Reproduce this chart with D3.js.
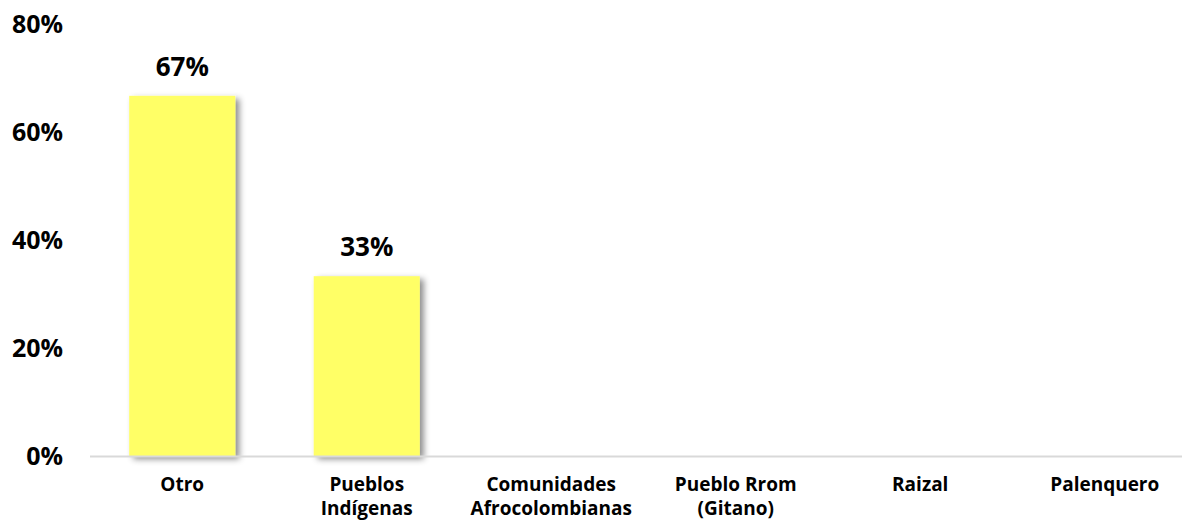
<!DOCTYPE html>
<html lang="es">
<head>
<meta charset="UTF-8">
<script src="https://d3js.org/d3.v7.min.js"></script>
<style>
  body { margin: 0; background: #fff; }
  text { font-family: "Open Sans", "Noto Sans", sans-serif; font-weight: bold; fill: #000; }
</style>
</head>
<body>
<script>
// datos
var categorias = [["Otro"], ["Pueblos", "Indígenas"], ["Comunidades", "Afrocolombianas"], ["Pueblo Rrom", "(Gitano)"], ["Raizal"], ["Palenquero"]];
var valores = [0.667, 0.333, 0, 0, 0, 0];
var etiquetas = ["67%", "33%", "", "", "", ""];
var ticks = [0, 0.2, 0.4, 0.6, 0.8];

var W = 1182, H = 521;
var svg = d3.select('body').append('svg')
    .attr('width', W)
    .attr('height', H);

var defs = svg.append('defs');
var f = defs.append('filter').attr('id', 'sombra')
    .attr('x', '-20%').attr('y', '-20%').attr('width', '150%').attr('height', '150%');
f.append('feDropShadow')
    .attr('dx', 4).attr('dy', 3)
    .attr('stdDeviation', 3)
    .attr('flood-color', '#000')
    .attr('flood-opacity', 0.45);

var nombres = categorias.map(function(d){ return d.join(' '); });

var x = d3.scaleBand()
    .domain(nombres)
    .range([90, 90 + 6 * 184.5])
    .paddingInner(0.425)
    .paddingOuter(0.2125);

var y = d3.scaleLinear()
    .domain([0, 0.8])
    .range([456, 24]);

// eje y (solo etiquetas)
var yAxis = svg.append('g')
    .attr('transform', 'translate(63,0)')
    .call(d3.axisLeft(y).tickValues(ticks).tickFormat(d3.format('.0%')).tickSize(0).tickPadding(0));
yAxis.select('.domain').remove();
yAxis.selectAll('text')
    .attr('font-size', 25)
    .attr('dy', '0.35em')
    .style('font-family', '"Open Sans", "Noto Sans", sans-serif')
    .style('font-weight', 'bold');

// barras
svg.append('g').selectAll('rect')
    .data(valores)
    .enter()
    .append('rect')
    .attr('x', function(d, i){ return x(nombres[i]); })
    .attr('width', x.bandwidth())
    .attr('y', function(d){ return y(d); })
    .attr('height', function(d){ return y(0) - y(d); })
    .attr('fill', '#ffff66')
    .attr('filter', 'url(#sombra)');

// linea base
svg.append('line')
    .attr('x1', 90).attr('x2', W)
    .attr('y1', y(0) + 0.5).attr('y2', y(0) + 0.5)
    .attr('stroke', '#d9d9d9')
    .attr('stroke-width', 2);

// etiquetas de datos
svg.append('g').selectAll('text')
    .data(valores)
    .enter()
    .append('text')
    .attr('x', function(d, i){ return x(nombres[i]) + x.bandwidth() / 2; })
    .attr('y', function(d){ return y(d) - 20; })
    .attr('text-anchor', 'middle')
    .attr('font-size', 26)
    .text(function(d, i){ return etiquetas[i]; });

// etiquetas de categorias
var cat = svg.append('g').selectAll('text')
    .data(categorias)
    .enter()
    .append('text')
    .attr('x', function(d, i){ return x(nombres[i]) + x.bandwidth() / 2; })
    .attr('y', 491)
    .attr('text-anchor', 'middle')
    .attr('font-size', 19);
cat.selectAll('tspan')
    .data(function(d){ return d; })
    .enter()
    .append('tspan')
    .attr('x', function(){ return d3.select(this.parentNode).attr('x'); })
    .attr('dy', function(d, i){ return i === 0 ? 0 : 24; })
    .text(function(d){ return d; });
</script>
</body>
</html>
